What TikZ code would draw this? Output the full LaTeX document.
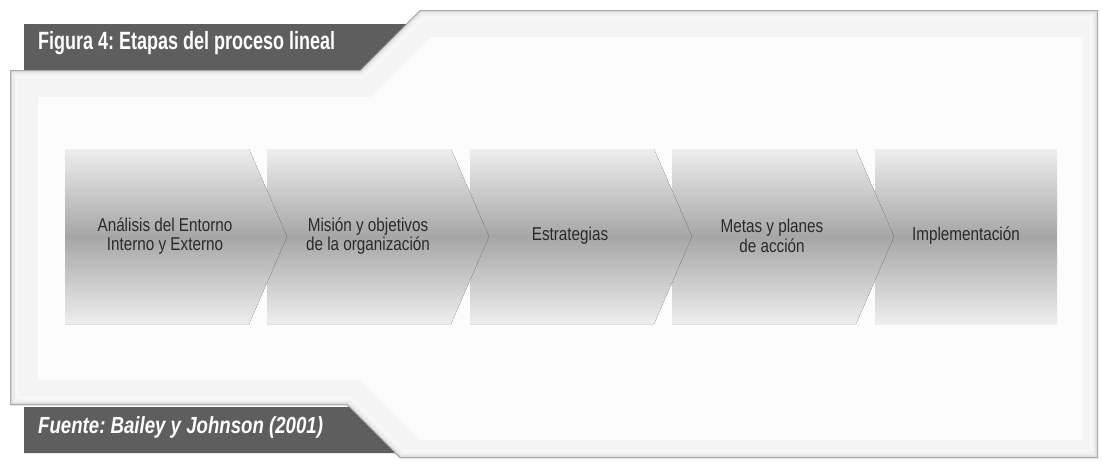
\documentclass[tikz,border=0pt]{standalone}
\usepackage{fontspec}
\setmainfont{Liberation Sans}
\frenchspacing
\definecolor{panelout}{HTML}{F4F4F4}
\definecolor{panelin}{HTML}{FCFCFC}
\definecolor{banner}{HTML}{5E5E5E}
\definecolor{chevlight}{HTML}{EEEEEE}
\definecolor{chevdark}{HTML}{A6A6A6}
\definecolor{stagetext}{HTML}{2A2A2A}
\begin{document}
\begin{tikzpicture}[x=1pt,y=-1pt,
  chev/.style={top color=chevlight,bottom color=chevlight,middle color=chevdark},
  stagelabel/.style={text=stagetext,align=center,xscale=0.82,inner sep=0pt,
    font=\fontsize{18.6}{19.5}\selectfont},
  bannerbox/.style={fill=banner},
  bannertext/.style={text=white,anchor=base west,inner sep=0pt}]
\useasboundingbox (0,0) rectangle (1102,463);
\fill[white] (0,0) rectangle (1102,463);

% outer panel with bevelled edge
\def\panelpath{(10,70) -- (360,70) -- (420,10) -- (1098,10) -- (1098,458)
  -- (400,458) -- (347,405) -- (10,405) -- cycle}
\fill[panelout] \panelpath;
\begin{scope}
  \clip \panelpath;
  \draw[line width=18pt,color=black!3] \panelpath;
  \draw[line width=11pt,color=black!6] \panelpath;
  \draw[line width=6pt,color=black!10] \panelpath;
  \draw[line width=3pt,color=black!18] \panelpath;
  \draw[line width=1.2pt,color=black!40] \panelpath;
\end{scope}
% inner lighter field
\fill[panelin] (38,97) -- (371,97) -- (431,37) -- (1083,37) -- (1083,440)
  -- (420,440) -- (360,380) -- (38,380) -- cycle;

% title and source banners
\fill[bannerbox] (24,24) -- (406,24) -- (360,70) -- (24,70) -- cycle;
\node[bannertext,xscale=0.72,font=\fontsize{25}{30}\selectfont\bfseries]
  (title) at (38,49.5) {Figura 4: Etapas del proceso lineal};
\fill[bannerbox] (24,407) -- (349,407) -- (395,453) -- (24,453) -- cycle;
\node[bannertext,xscale=0.8,font=\fontsize{23.3}{28}\selectfont\bfseries\itshape]
  (source) at (38,433.3) {Fuente: Bailey y Johnson (2001)};

% stages, drawn right to left so each tip lies over the next stage
\fill[chev] (875,149) rectangle (1057,324);
\foreach \L in {672,470,267,65}{
  \fill[chev] (\L,149) -- ++(184,0) -- ++(38,87.5) -- ++(-38,87.5)
    -- ++(-184,0) -- cycle;
}
\node[stagelabel] (s1) at (165,236) {Análisis del Entorno\\Interno y Externo};
\node[stagelabel] (s2) at (368,236) {Misión y objetivos\\de la organización};
\node[stagelabel] (s3) at (570,236) {Estrategias};
\node[stagelabel] (s4) at (772,236) {Metas y planes\\de acción};
\node[stagelabel] (s5) at (966,236) {Implementación};
\end{tikzpicture}
\end{document}
